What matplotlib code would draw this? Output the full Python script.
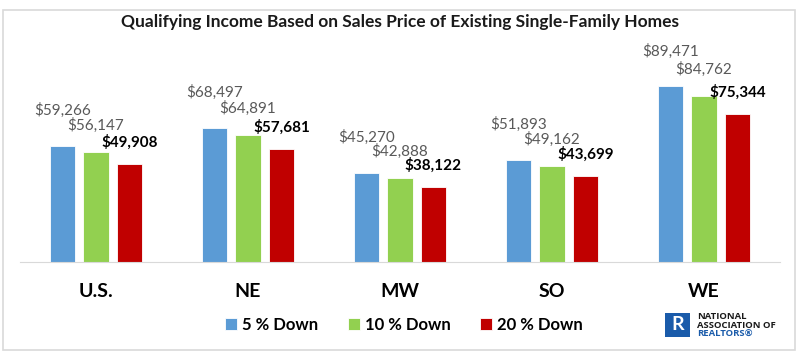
import numpy as np
import matplotlib
matplotlib.use('Agg')
import matplotlib.pyplot as plt
from matplotlib.patches import Rectangle

plt.rcParams['font.family'] = ['Lato', 'DejaVu Sans']

# data
regions = ['U.S.', 'NE', 'MW', 'SO', 'WE']
series_names = ['5 % Down', '10 % Down', '20 % Down']
down_5 = [59266, 68497, 45270, 51893, 89471]
down_10 = [56147, 64891, 42888, 49162, 84762]
down_20 = [49908, 57681, 38122, 43699, 75344]

colors = ['#5B9BD5', '#92D050', '#C00000']
label_colors = ['#595959', '#595959', '#000000']
label_weights = ['normal', 'normal', 'bold']
label_offsets = [28, 19, 14]   # pixels above bar top

fig = plt.figure(figsize=(8, 3.6), dpi=100)
fig.patch.set_facecolor('white')

# outer light border
fig.patches.append(Rectangle((0.004, 0.028), 0.99, 0.945, transform=fig.transFigure,
                             fill=False, edgecolor='#D9D9D9', lw=1.2))

ax = fig.add_axes([0.025, 0.272, 0.95, 0.6])
x = np.arange(len(regions))
width = 0.17
step = 0.22

for i, vals in enumerate([down_5, down_10, down_20]):
    pos = x + (i - 1) * step
    bars = ax.bar(pos, vals, width, color=colors[i], edgecolor='white', lw=0.6,
                  label=series_names[i], zorder=2)
    for b, v in zip(bars, vals):
        ax.annotate('${:,}'.format(v), (b.get_x() + b.get_width() / 2, v),
                    xytext=(0, label_offsets[i]), textcoords='offset pixels',
                    ha='center', va='bottom', fontsize=11,
                    color=label_colors[i], fontweight=label_weights[i])

ax.set_xlim(-0.5, len(regions) - 0.5)
ax.set_ylim(0, 110000)
ax.set_yticks([])
ax.set_xticks(x)
ax.set_xticklabels(regions, fontsize=14, fontweight='bold')
ax.tick_params(axis='x', length=0, pad=15)
for s in ['top', 'right', 'left']:
    ax.spines[s].set_visible(False)
ax.spines['bottom'].set_color('#D9D9D9')

fig.text(0.5, 0.94, 'Qualifying Income Based on Sales Price of Existing Single-Family Homes',
         ha='center', va='center', fontsize=12.5, fontweight='bold', color='#1a1a1a')

leg = fig.legend(loc='center', bbox_to_anchor=(0.505, 0.097), ncol=3, frameon=False,
                 prop={'size': 12, 'weight': 'bold'}, handlelength=0.7, handleheight=0.7,
                 handletextpad=0.3, columnspacing=1.8)

# logo
fig.patches.append(Rectangle((0.831, 0.064), 0.031, 0.067, transform=fig.transFigure,
                             facecolor='#1A5BAA', edgecolor='none'))
fig.text(0.8465, 0.098, 'R', ha='center', va='center', fontsize=14, fontweight='bold',
         color='white')
fig.text(0.871, 0.122, 'NATIONAL', fontsize=6.8, fontweight='bold', color='#1a1a1a',
         va='center', family='Open Sans')
fig.text(0.871, 0.097, 'ASSOCIATION OF', fontsize=6.8, fontweight='bold', color='#1a1a1a',
         va='center', family='Open Sans')
fig.text(0.871, 0.071, 'REALTORS\u00ae', fontsize=6.8, fontweight='bold', color='#1A5BAA',
         va='center', family='Open Sans')

fig.savefig('out.png', dpi=100)
